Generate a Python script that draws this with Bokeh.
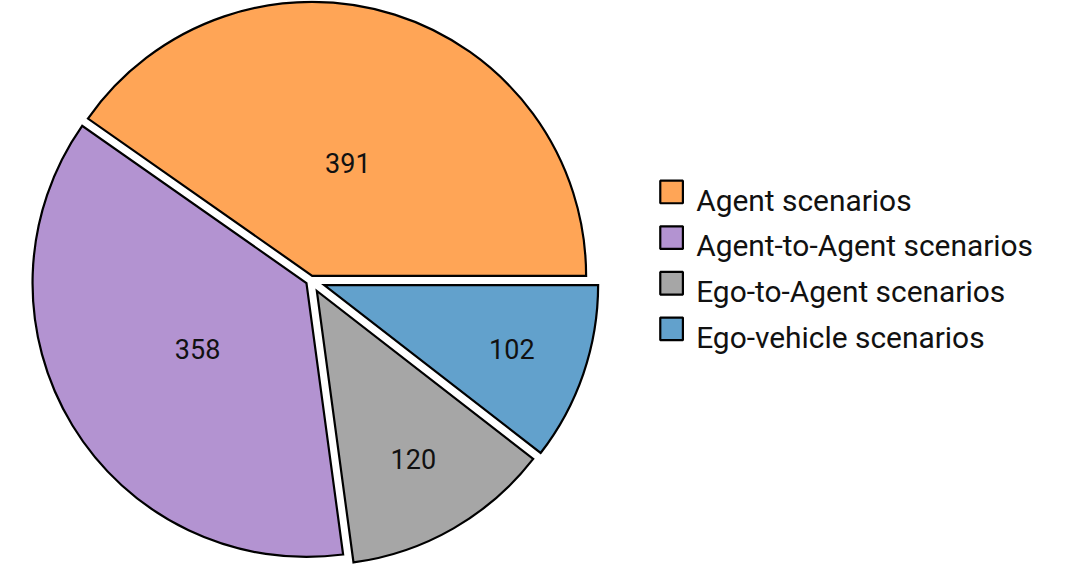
import math
from bokeh.plotting import figure
from bokeh.models import ColumnDataSource, Range1d
from bokeh.core.properties import value
from bokeh.embed import file_html
from bokeh.resources import INLINE

# ---- data ----
categories = ["Agent scenarios", "Agent-to-Agent scenarios",
              "Ego-to-Agent scenarios", "Ego-vehicle scenarios"]
counts = [391, 358, 120, 102]
colors = ["#FFA556", "#B393D1", "#A6A6A6", "#62A1CC"]

# ---- geometry (in reference pixel units, centre of pie at origin, y up) ----
R = 282.0          # pie radius
GAP = 9.5          # constant gap between slices
CX_REF, CY_REF = 325.2, 287.4   # pie centre in reference pixel coords

total = float(sum(counts))
starts, ends, xs, ys, lxs, lys = [], [], [], [], [], []
acc = 0.0
for c in counts:
    alpha = 360.0 * c / total
    s = acc
    e = acc + alpha
    mid = math.radians(s + alpha / 2.0)
    d = (GAP / 2.0) / math.sin(math.radians(alpha / 2.0))
    ox, oy = d * math.cos(mid), d * math.sin(mid)
    k = max(min((alpha - 10.0) / 110.0 * (-0.3), 0.0), -0.5) + 0.8
    starts.append(math.radians(s))
    ends.append(math.radians(e))
    xs.append(ox)
    ys.append(oy)
    lxs.append(ox + k * R * math.cos(mid))
    lys.append(oy + k * R * math.sin(mid))
    acc = e

src = ColumnDataSource(dict(x=xs, y=ys, start=starts, end=ends, color=colors,
                            lx=lxs, ly=lys, label=[str(c) for c in counts]))

# ---- figure ----
W, H = 1064, 565
y_top_ref, y_bot_ref = -0.8, 580.9
span_y = y_bot_ref - y_top_ref
scale = span_y / H
span_x = W * scale
xmid_ref = 553.5
x0 = xmid_ref - span_x / 2.0 - CX_REF
p = figure(width=W, height=H, output_backend="svg", toolbar_location=None,
           x_range=Range1d(x0, x0 + span_x),
           y_range=Range1d(CY_REF - y_bot_ref, CY_REF - y_top_ref),
           min_border=0)
p.axis.visible = False
p.grid.visible = False
p.outline_line_color = None
p.background_fill_color = "white"

p.wedge(x="x", y="y", radius=R, start_angle="start", end_angle="end",
        direction="anticlock", fill_color="color", line_color="black",
        line_width=2.2, line_join="miter", source=src)

p.text(x="lx", y="ly", text="label", source=src, text_align="center",
       text_baseline="middle", text_font=value("Roboto"),
       text_font_size="27px", text_color="#111111")

# ---- legend (drawn manually) ----
box_x_ref = 696.7
text_x_ref = 722.0
row0_ref = 196.3
row_step = 47.0
box = 23.3
leg = ColumnDataSource(dict(
    bx=[box_x_ref - CX_REF] * len(categories),
    by=[CY_REF - (row0_ref + i * row_step) for i in range(len(categories))],
    tx=[text_x_ref - CX_REF] * len(categories),
    ty=[CY_REF - (row0_ref + 8.6 + i * row_step) for i in range(len(categories))],
    color=colors, name=categories))
p.rect(x="bx", y="by", width=box, height=box, fill_color="color",
       line_color="black", line_width=2.2, source=leg)
p.text(x="tx", y="ty", text="name", source=leg, text_align="left",
       text_baseline="alphabetic", text_font=value("Roboto"),
       text_font_size="29.9px", text_color="#111111")

open("out.html", "w").write(file_html(p, INLINE))
